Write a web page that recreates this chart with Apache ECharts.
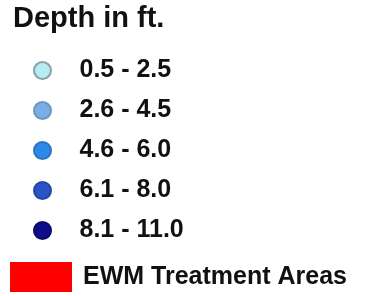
<!DOCTYPE html>
<html>
<head>
<meta charset="utf-8">
<script src="https://cdn.jsdelivr.net/npm/echarts@6/dist/echarts.min.js"></script>
<style>
  html, body { margin: 0; padding: 0; background: #fff; }
  #chart { width: 366px; height: 296px; }
</style>
</head>
<body>
<div id="chart"></div>
<script>
// 水深分级图例
const depthClasses = ['0.5 - 2.5', '2.6 - 4.5', '4.6 - 6.0', '6.1 - 8.0', '8.1 - 11.0'];
const depthColors = ['#b6ecf1', '#7aaee4', '#2e88e8', '#2a54c6', '#0e0e8a'];
const depthBorders = ['#8a9fa3', '#6a95c2', '#2a74c4', '#2346a6', '#0a0a6a'];
const areaNames = ['EWM Treatment Areas'];
const areaColors = ['#ff0000'];

let chart = echarts.init(document.getElementById('chart'));

// 每个分级一个空的散点系列，只为了出现在图例里
let series = depthClasses.map((name, i) => ({
    name: name,
    type: 'scatter',
    data: [],
    itemStyle: { color: depthColors[i], borderColor: depthBorders[i], borderWidth: 1, opacity: 1 }
}));
areaNames.forEach((name, i) => {
    series.push({
        name: name,
        type: 'bar',
        data: [],
        itemStyle: { color: areaColors[i] }
    });
});

let textStyle = {
    color: '#111',
    fontFamily: 'Liberation Sans, Arial, sans-serif',
    fontWeight: 'bold',
    fontSize: 25
};

let option = {
    animation: false,
    title: {
        text: 'Depth in ft.',
        left: 13,
        top: 4,
        padding: 0,
        textStyle: {
            color: '#111',
            fontFamily: 'Liberation Sans, Arial, sans-serif',
            fontWeight: 'bold',
            fontSize: 29
        }
    },
    grid: { left: -100, top: -100, width: 10, height: 10 },
    xAxis: { show: false },
    yAxis: { show: false },
    legend: [
        {
            orient: 'vertical',
            left: 33,
            top: 58,
            padding: 0,
            itemGap: 15,
            itemWidth: 24,
            itemHeight: 17,
            icon: 'circle',
            selectedMode: false,
            data: depthClasses,
            textStyle: Object.assign({}, textStyle, { padding: [0, 0, 0, 20] })
        },
        {
            orient: 'vertical',
            left: 10,
            top: 262,
            padding: 0,
            itemWidth: 62,
            itemHeight: 30,
            icon: 'rect',
            selectedMode: false,
            data: areaNames,
            textStyle: Object.assign({}, textStyle, { padding: [0, 0, 0, 6] })
        }
    ],
    series: series
};

chart.setOption(option);
</script>
</body>
</html>
